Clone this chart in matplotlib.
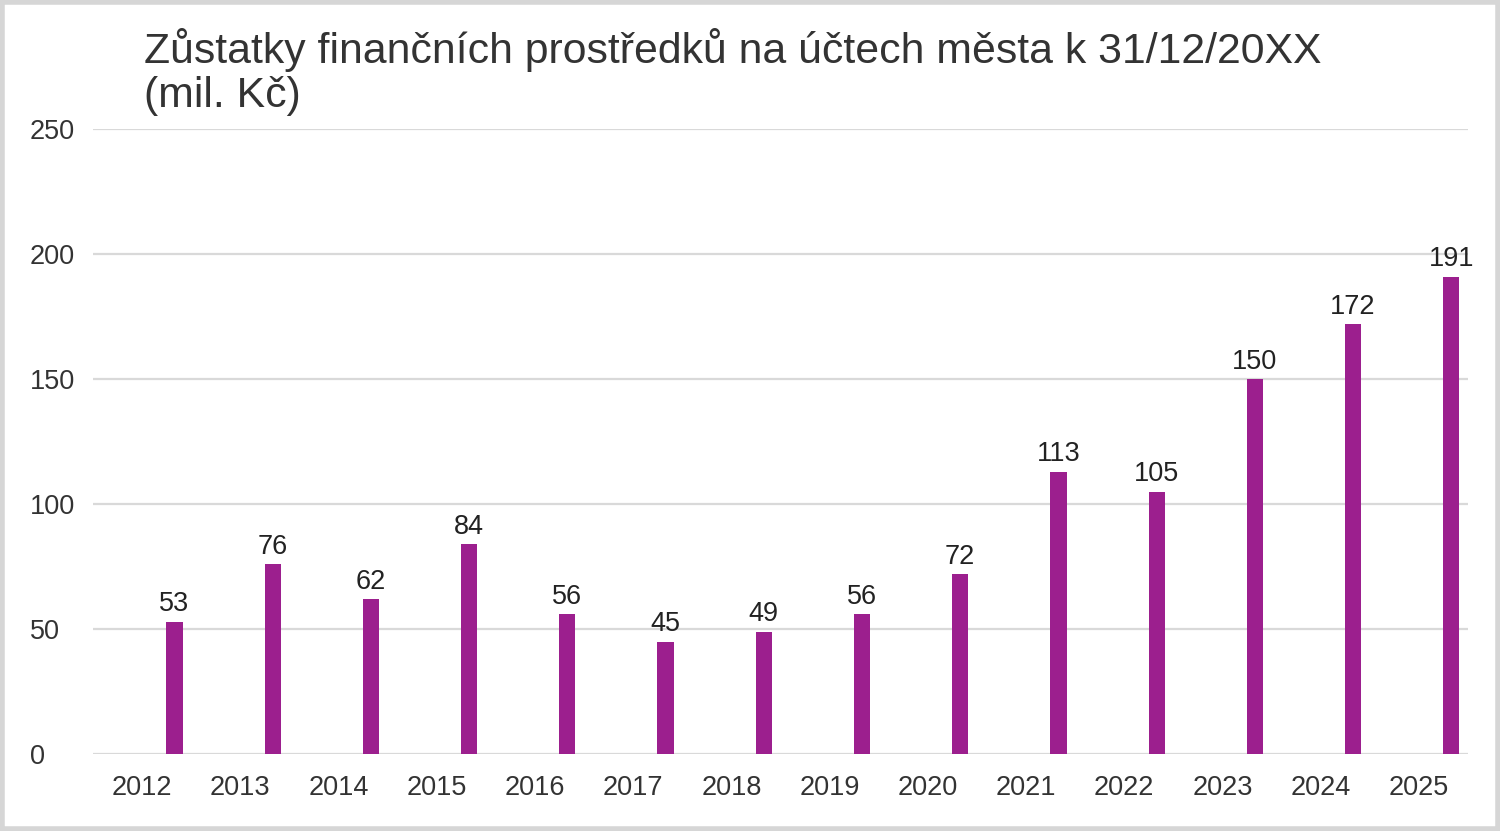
import matplotlib.pyplot as plt
import matplotlib.patches as patches
import numpy as np

plt.rcParams['font.family'] = ['Liberation Sans', 'DejaVu Sans']

years = ['2012', '2013', '2014', '2015', '2016', '2017', '2018',
         '2019', '2020', '2021', '2022', '2023', '2024', '2025']
balances = [53, 76, 62, 84, 56, 45, 49, 56, 72, 113, 105, 150, 172, 191]
y_ticks = [0, 50, 100, 150, 200, 250]

bar_color = '#9c1f8e'
grid_color = '#d9d9d9'
text_color = '#333333'

fig = plt.figure(figsize=(15, 8.31), dpi=100)
ax = fig.add_axes([93 / 1500, (831 - 754) / 831, (1468 - 93) / 1500, (754 - 129) / 831])

x = np.arange(len(years))
bars = ax.bar(x + 0.33, balances, width=0.165, color=bar_color, zorder=3)

# value labels above each bar
for xi, val in zip(x, balances):
    ax.annotate(str(val), (xi + 0.33, val), xytext=(0, 3), textcoords='offset points',
                ha='center', va='bottom', fontsize=19.5, color='#222222')

ax.set_xlim(-0.5, len(years) - 0.5)
ax.set_ylim(0, 250)
ax.set_xticks(x)
ax.set_xticklabels(years)
ax.set_yticks(y_ticks)
ax.tick_params(axis='both', length=0, labelsize=19.5, colors=text_color)
ax.tick_params(axis='x', pad=15)
# y labels are left-aligned at about x=30 px
ax.tick_params(axis='y', pad=(93 - 30) * 0.72)
for lbl in ax.get_yticklabels():
    lbl.set_horizontalalignment('left')

ax.grid(axis='y', color=grid_color, linewidth=1.6, zorder=0)
for s in ax.spines.values():
    s.set_visible(False)

fig.text(144 / 1500, 1 - 28 / 831, 'Zůstatky finančních prostředků na účtech města k 31/12/20XX\n(mil. Kč)',
         ha='left', va='top', fontsize=30.8, color=text_color, linespacing=1.14)

# light frame around the image
fig.patches.append(patches.Rectangle((0.0015, 0.0025), 0.997, 0.995, transform=fig.transFigure,
                                     fill=False, edgecolor='#d6d6d6', linewidth=4))

fig.savefig('out.png', dpi=100)
